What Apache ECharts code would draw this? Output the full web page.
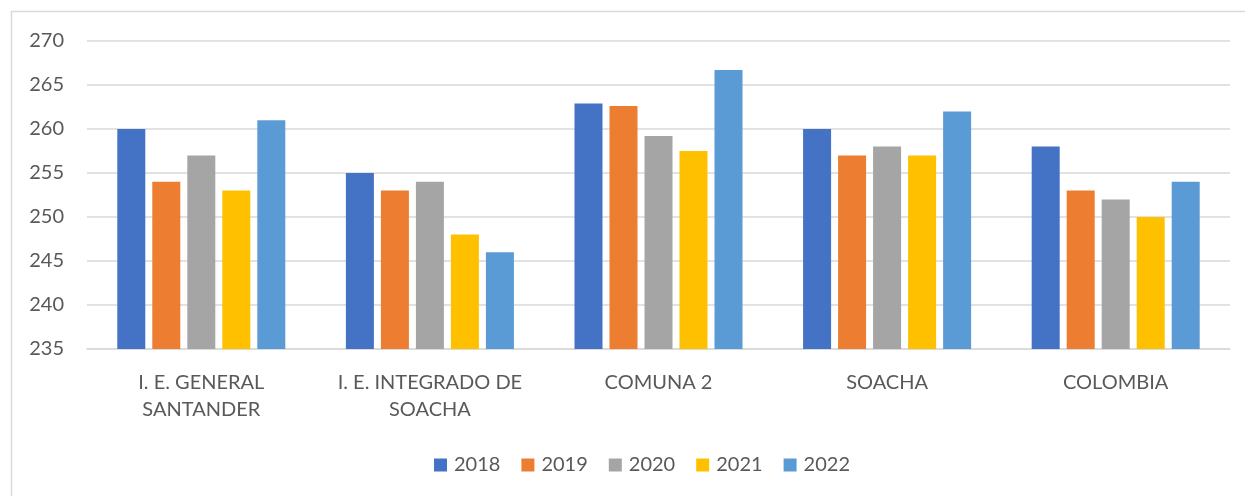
<!DOCTYPE html>
<html>
<head>
<meta charset="utf-8">
<script src="https://cdn.jsdelivr.net/npm/echarts@6/dist/echarts.min.js"></script>
<style>
  body { margin: 0; background: #fff; }
  #main { width: 1245px; height: 496px; }
</style>
</head>
<body>
<div id="main"></div>
<script>
// categorias y valores
var categorias = ['I. E. GENERAL\nSANTANDER', 'I. E. INTEGRADO DE\nSOACHA', 'COMUNA 2', 'SOACHA', 'COLOMBIA'];
var anios = ['2018', '2019', '2020', '2021', '2022'];
var colores = ['#4472c4', '#ed7d31', '#a5a5a5', '#ffc000', '#5b9bd5'];

var v2018 = [260, 255, 262.9, 260, 258];
var v2019 = [254, 253, 262.6, 257, 253];
var v2020 = [257, 254, 259.2, 258, 252];
var v2021 = [253, 248, 257.5, 257, 250];
var v2022 = [261, 246, 266.7, 262, 254];

var valores = [v2018, v2019, v2020, v2021, v2022];

var fuente = 'Lato';

var myChart = echarts.init(document.getElementById('main'));

var series = [];
for (var i = 0; i < anios.length; i++) {
  series.push({
    name: anios[i],
    type: 'bar',
    data: valores[i],
    barGap: '25%',
    barCategoryGap: '26.5%',
    itemStyle: { color: colores[i] }
  });
}

var option = {
  animation: false,
  color: colores,
  textStyle: { fontFamily: fuente },
  graphic: [{
    type: 'rect',
    shape: { x: 11.5, y: 11.5, width: 1245, height: 520 },
    style: { fill: 'none', stroke: '#d9d9d9', lineWidth: 1.5 },
    silent: true
  }],
  grid: { left: 87, right: 15, top: 41, bottom: 147 },
  legend: {
    data: anios,
    top: 450,
    left: 429,
    itemWidth: 13,
    itemHeight: 13,
    itemGap: 21,
    icon: 'rect',
    textStyle: { fontSize: 20, color: '#595959', fontFamily: fuente, padding: [0, 0, 0, 2] }
  },
  xAxis: {
    type: 'category',
    data: categorias,
    axisLine: { lineStyle: { color: '#d9d9d9', width: 1.5 } },
    axisTick: { show: false },
    axisLabel: {
      interval: 0,
      color: '#595959',
      fontSize: 20,
      lineHeight: 27,
      margin: 20,
      fontFamily: fuente
    }
  },
  yAxis: {
    type: 'value',
    min: 235,
    max: 270,
    interval: 5,
    axisLine: { show: false },
    axisTick: { show: false },
    axisLabel: { color: '#595959', fontSize: 20, margin: 23, fontFamily: fuente },
    splitLine: { lineStyle: { color: '#d9d9d9', width: 1.5 } }
  },
  series: series
};

myChart.setOption(option);
</script>
</body>
</html>
